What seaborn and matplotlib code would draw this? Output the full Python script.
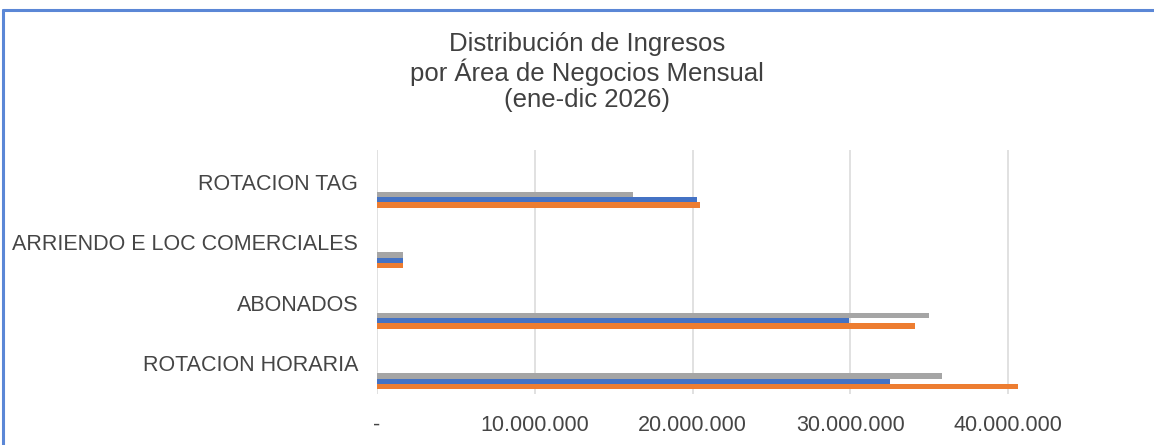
import numpy as np
import pandas as pd
import matplotlib
matplotlib.use("Agg")
import matplotlib.pyplot as plt
import seaborn as sns
from matplotlib.ticker import FixedLocator, FixedFormatter
from matplotlib.transforms import ScaledTranslation
from matplotlib.lines import Line2D

# ---------------- data ----------------
categories = ["ROTACION TAG", "ARRIENDO E LOC COMERCIALES", "ABONADOS", "ROTACION HORARIA"]
series_names = ["Serie 3", "Serie 2", "Serie 1"]          # drawn top -> bottom in each group
serie3_values = [16.2e6, 1.65e6, 35.0e6, 35.8e6]           # gray
serie2_values = [20.3e6, 1.65e6, 29.9e6, 32.5e6]           # blue
serie1_values = [20.5e6, 1.65e6, 34.1e6, 40.6e6]           # orange
x_ticks = [0, 10e6, 20e6, 30e6, 40e6]
x_tick_labels = ["-", "10.000.000", "20.000.000", "30.000.000", "40.000.000"]
title_lines = ["Distribución de Ingresos", "por Área de Negocios Mensual", "(ene-dic 2026)"]

colors = ["#A5A5A5", "#4472C4", "#ED7D31"]
text_color = "#454545"

rows = []
for name, vals in zip(series_names, [serie3_values, serie2_values, serie1_values]):
    for cat, v in zip(categories, vals):
        rows.append({"area": cat, "serie": name, "valor": v})
df = pd.DataFrame(rows)

# ---------------- figure ----------------
sns.set_theme(style="white")
plt.rcParams["font.family"] = ["Liberation Sans", "DejaVu Sans"]

W, H = 1154, 445
fig = plt.figure(figsize=(W / 100, H / 100), dpi=100)
fig.patch.set_facecolor("white")

ax = fig.add_axes([377 / W, 51 / H, (1087 - 377) / W, 244 / H])
sns.barplot(data=df, x="valor", y="area", hue="serie", order=categories,
            hue_order=series_names, palette=colors, width=0.26, saturation=1,
            errorbar=None, legend=False, orient="h", ax=ax, linewidth=0)

ax.set_xlim(0, 45e6)
ax.set_ylim(3.21, -0.82)
ax.xaxis.set_major_locator(FixedLocator(x_ticks))
ax.xaxis.set_major_formatter(FixedFormatter(x_tick_labels))
ax.set_xlabel("")
ax.set_ylabel("")
for s in ax.spines.values():
    s.set_visible(False)
ax.grid(axis="x", color="#D9D9D9", linewidth=1.1)
ax.grid(axis="y", visible=False)
ax.set_axisbelow(True)
ax.tick_params(axis="both", length=0, colors=text_color)
ax.tick_params(axis="x", labelsize=15.5, pad=15)
ax.tick_params(axis="y", labelsize=15.5, pad=13.5)

shift = ScaledTranslation(0, 0.18, fig.dpi_scale_trans)
for lbl in ax.get_yticklabels():
    lbl.set_transform(lbl.get_transform() + shift)

fig.text(0.509, 1 - 72 / H, "\n".join(title_lines), ha="center", va="center",
         fontsize=18.5, color="#404040", linespacing=1.12)

# outer frame (top and left edges of the screenshot border)
border = "#5B87D6"
fig.add_artist(Line2D([3 / W, 1], [1 - 10 / H, 1 - 10 / H], transform=fig.transFigure,
                      color=border, linewidth=2.2))
fig.add_artist(Line2D([3 / W, 3 / W], [0, 1 - 10 / H], transform=fig.transFigure,
                      color=border, linewidth=2.2))

fig.savefig("out.png", dpi=100, facecolor="white")
